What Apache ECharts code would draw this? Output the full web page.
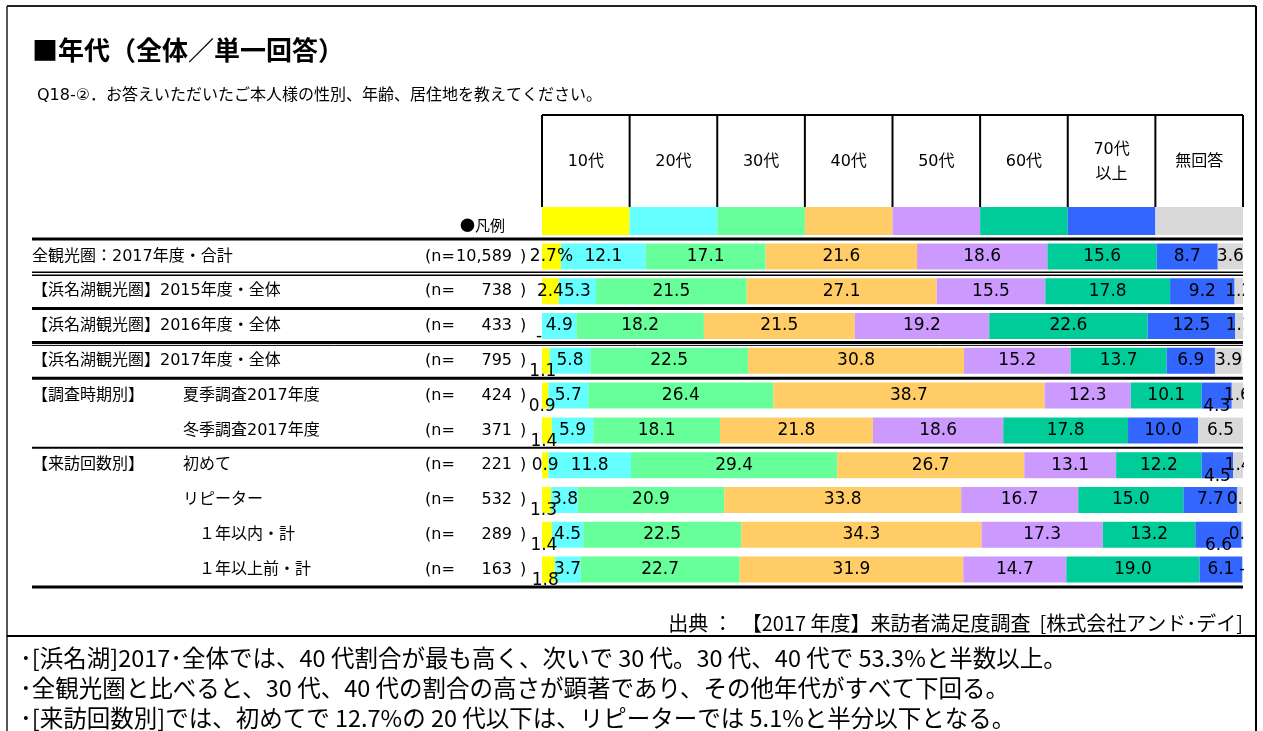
<!DOCTYPE html>
<html>
<head>
<meta charset="utf-8">
<script src="https://cdn.jsdelivr.net/npm/echarts@6.0.0/dist/echarts.min.js"></script>
<style>
html, body { margin: 0; padding: 0; background: #fff; }
#chart { width: 1263px; height: 731px; }
</style>
</head>
<body>
<div id="chart"></div>
<script>
// 凡例（年代）
var ageNames = ['10代', '20代', '30代', '40代', '50代', '60代', '70代\n以上', '無回答'];
var ageColors = ['#FFFF00', '#66FFFF', '#66FF99', '#FFCC66', '#CC99FF', '#00CC99', '#3366FF', '#D9D9D9'];

// 行ラベル
var groupLabels = ['全観光圏：2017年度・合計', '【浜名湖観光圏】2015年度・全体', '【浜名湖観光圏】2016年度・全体',
  '【浜名湖観光圏】2017年度・全体', '【調査時期別】', '', '【来訪回数別】', '', '', ''];
var subLabels = ['', '', '', '', '夏季調査2017年度', '冬季調査2017年度', '初めて', 'リピーター',
  '　１年以内・計', '　１年以上前・計'];
var sampleSizes = ['10,589', '738', '433', '795', '424', '371', '221', '532', '289', '163'];

// 構成比（%）
var age10 = [2.7, 2.4, 0.0, 1.1, 0.9, 1.4, 0.9, 1.3, 1.4, 1.8];
var age20 = [12.1, 5.3, 4.9, 5.8, 5.7, 5.9, 11.8, 3.8, 4.5, 3.7];
var age30 = [17.1, 21.5, 18.2, 22.5, 26.4, 18.1, 29.4, 20.9, 22.5, 22.7];
var age40 = [21.6, 27.1, 21.5, 30.8, 38.7, 21.8, 26.7, 33.8, 34.3, 31.9];
var age50 = [18.6, 15.5, 19.2, 15.2, 12.3, 18.6, 13.1, 16.7, 17.3, 14.7];
var age60 = [15.6, 17.8, 22.6, 13.7, 10.1, 17.8, 12.2, 15.0, 13.2, 19.0];
var age70 = [8.7, 9.2, 12.5, 6.9, 4.3, 10.0, 4.5, 7.7, 6.6, 6.1];
var noAnswer = [3.6, 1.2, 1.1, 3.9, 1.6, 6.5, 1.4, 0.8, 0.3, 0.0];
var seriesValues = [age10, age20, age30, age40, age50, age60, age70, noAnswer];

var notes = [
  '･[浜名湖]2017･全体では、40 代割合が最も高く、次いで 30 代。30 代、40 代で 53.3%と半数以上。',
  '･全観光圏と比べると、30 代、40 代の割合の高さが顕著であり、その他年代がすべて下回る。',
  '･[来訪回数別]では、初めてで 12.7%の 20 代以下は、リピーターでは 5.1%と半分以下となる。'
];

var JP = '"Noto Sans CJK JP", sans-serif';
var MIX = '"DejaVu Sans", "Noto Sans CJK JP", sans-serif';
var NUM = '"DejaVu Sans", Verdana, sans-serif';

var plotLeft = 542, plotRight = 1243, plotTop = 239, rowH = 34.8;
var rowCount = groupLabels.length;
var plotBottom = plotTop + rowH * rowCount;
var colW = (plotRight - plotLeft) / ageNames.length;

// 細いバーのラベルは下にずらす（元資料のまま）
var dropBelow = { 0: [2, 3, 4, 5, 7, 8, 9], 6: [4, 6, 8] };
var dropOffset = { 0: [-3, 11], 6: [0, 11] };

var rowIds = groupLabels.map(function (g, i) { return 'r' + i; });

function yLabelAxis(list, align, margin) {
  return {
    type: 'category',
    inverse: true,
    position: 'left',
    data: rowIds,
    axisLine: { show: false },
    axisTick: { show: false },
    axisLabel: {
      margin: margin,
      align: align,
      color: '#000',
      fontSize: 16,
      fontFamily: MIX,
      formatter: function (v) { return list[rowIds.indexOf(v)]; }
    }
  };
}

var series = seriesValues.map(function (vals, si) {
  return {
    name: ageNames[si],
    type: 'bar',
    stack: 'total',
    barWidth: 26,
    itemStyle: { color: ageColors[si] },
    label: {
      show: true,
      position: 'inside',
      color: '#000',
      fontSize: 17,
      fontFamily: NUM,
      formatter: function (p) {
        if (p.value === 0) return '-';
        var s = p.value.toFixed(1);
        if (si === 0 && p.dataIndex === 0) s += '%';
        return s;
      }
    },
    data: vals.map(function (v, ri) {
      var drop = dropBelow[si] && dropBelow[si].indexOf(ri) >= 0;
      return drop ? { value: v, label: { offset: dropOffset[si] } } : v;
    })
  };
});

var graphic = [];
// 外枠
graphic.push({ type: 'line', shape: { x1: 7, y1: 6, x2: 7, y2: 731 }, style: { stroke: '#555', lineWidth: 2 } });
graphic.push({ type: 'line', shape: { x1: 7, y1: 6, x2: 1256, y2: 6 }, style: { stroke: '#222', lineWidth: 2 } });
graphic.push({ type: 'line', shape: { x1: 1256, y1: 6, x2: 1256, y2: 731 }, style: { stroke: '#000', lineWidth: 2 } });
graphic.push({ type: 'line', shape: { x1: 7, y1: 636, x2: 1256, y2: 636 }, style: { stroke: '#000', lineWidth: 2 } });

// タイトル
graphic.push({ type: 'text', x: 32, y: 50, style: { text: '■年代（全体／単一回答）', font: 'bold 26px ' + JP, fill: '#000', textVerticalAlign: 'middle' } });
graphic.push({ type: 'text', x: 37, y: 96, style: { text: 'Q18-②．お答えいただいたご本人様の性別、年齢、居住地を教えてください。', font: '16px ' + MIX, fill: '#000', textVerticalAlign: 'middle' } });
graphic.push({ type: 'text', x: 505, y: 225, style: { text: '●凡例', font: '15px ' + JP, fill: '#000', textAlign: 'right', textVerticalAlign: 'middle' } });

// 凡例ヘッダ
graphic.push({ type: 'line', shape: { x1: plotLeft, y1: 115, x2: plotRight, y2: 115 }, style: { stroke: '#000', lineWidth: 2 } });
ageNames.forEach(function (name, i) {
  var x0 = plotLeft + i * colW;
  graphic.push({ type: 'rect', shape: { x: x0, y: 207, width: colW, height: 28 }, style: { fill: ageColors[i] } });
  graphic.push({ type: 'text', x: x0 + colW / 2, y: 162, style: { text: name, font: '16px ' + MIX, lineHeight: 25, fill: '#000', textAlign: 'center', textVerticalAlign: 'middle' } });
});
for (var c = 0; c <= ageNames.length; c++) {
  var xc = plotLeft + c * colW;
  graphic.push({ type: 'line', shape: { x1: xc, y1: 115, x2: xc, y2: 207 }, style: { stroke: '#000', lineWidth: 2 } });
}

// 行区切り線
var separators = [
  { y: plotTop, w: 3 },
  { y: plotTop + rowH - 1.5, w: 1.5 }, { y: plotTop + rowH + 1.5, w: 1.5 },
  { y: plotTop + 2 * rowH, w: 3 },
  { y: plotTop + 3 * rowH - 1, w: 3 }, { y: plotTop + 3 * rowH + 2, w: 1 },
  { y: plotTop + 4 * rowH, w: 3 },
  { y: plotTop + 6 * rowH, w: 2 },
  { y: plotBottom, w: 3 }
];
separators.forEach(function (s) {
  graphic.push({ type: 'line', z: 10, shape: { x1: 32, y1: s.y, x2: plotRight, y2: s.y }, style: { stroke: '#000', lineWidth: s.w } });
});

// 右端からはみ出したラベルを隠す
graphic.push({ type: 'rect', z: 100, shape: { x: plotRight + 1, y: plotTop + 2, width: 11, height: plotBottom - plotTop }, style: { fill: '#fff' } });

// 出典・コメント
graphic.push({ type: 'text', x: 1243, y: 623, style: { text: '出典 ：  【2017 年度】来訪者満足度調査  [株式会社アンド･デイ]', font: '20px ' + JP, fill: '#000', textAlign: 'right', textVerticalAlign: 'middle' } });
notes.forEach(function (t, i) {
  graphic.push({ type: 'text', x: 20, y: 658 + i * 30, style: { text: t, font: '23.5px ' + JP, fill: '#000', textVerticalAlign: 'middle' } });
});

var chartDom = document.getElementById('chart');
var myChart = echarts.init(chartDom);
var option;

option = {
  animation: false,
  textStyle: { fontFamily: JP },
  grid: { left: plotLeft, right: 1263 - plotRight, top: plotTop, height: plotBottom - plotTop },
  xAxis: { type: 'value', min: 0, max: 100, show: false },
  yAxis: [
    yLabelAxis(groupLabels, 'left', plotLeft - 32),
    yLabelAxis(subLabels, 'left', plotLeft - 183),
    yLabelAxis(sampleSizes.map(function () { return '(n='; }), 'left', plotLeft - 425),
    yLabelAxis(sampleSizes, 'right', plotLeft - 512),
    yLabelAxis(sampleSizes.map(function () { return ')'; }), 'left', plotLeft - 520)
  ],
  series: series,
  graphic: graphic
};

option && myChart.setOption(option);
</script>
</body>
</html>
